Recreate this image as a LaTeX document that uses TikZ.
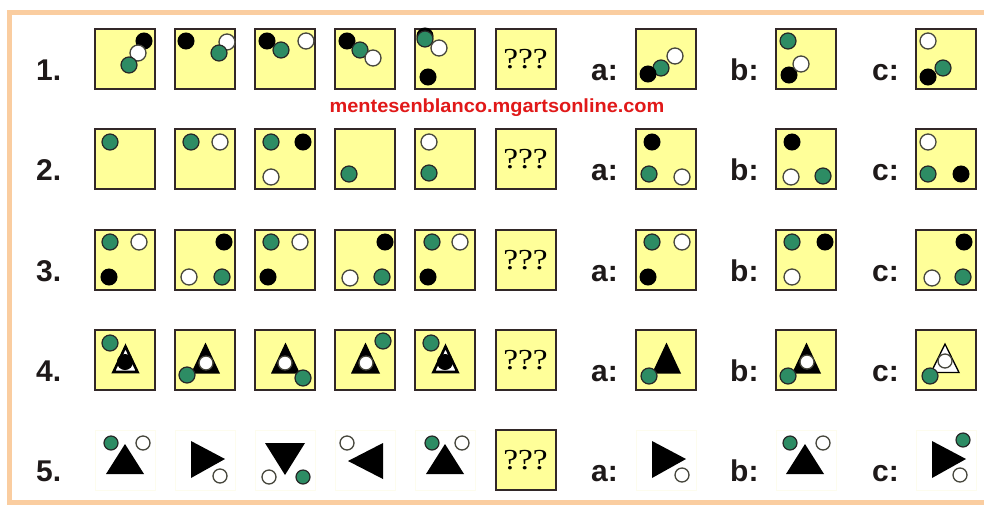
\documentclass[tikz,border=0pt]{standalone}
\usepackage{fontspec}
\setmainfont{Liberation Sans}
\newfontfamily\qfont{Liberation Serif}
\usetikzlibrary{calc}
\definecolor{framec}{RGB}{250,205,160}
\definecolor{boxfill}{RGB}{255,255,153}
\definecolor{boxline}{RGB}{50,40,40}
\definecolor{grn}{RGB}{45,140,100}
\definecolor{wmred}{RGB}{225,25,25}
\definecolor{lbl}{RGB}{30,25,25}
\definecolor{faintc}{RGB}{253,252,238}
\definecolor{wedge}{RGB}{70,70,60}
\tikzset{
  framest/.style={draw=framec, line width=4.5pt},
  pbox/.style={draw=boxline, fill=boxfill, line width=2pt, minimum size=60pt, inner sep=0pt, outer sep=0pt},
  fbox/.style={draw=faintc, line width=1pt, minimum size=60pt, inner sep=0pt, outer sep=0pt},
  gc/.style={fill=grn, draw=black!85, line width=1.2pt},
  bc/.style={fill=black, draw=black, line width=1pt},
  wc/.style={fill=white, draw=wedge, line width=1.3pt},
  lab/.style={font=\bfseries\fontsize{30}{30}\selectfont, text=lbl, anchor=base west, inner sep=0pt},
  qm/.style={font=\qfont\fontsize{29}{29}\selectfont, text=black, inner sep=0pt},
  wm/.style={font=\bfseries\fontsize{19}{19}\selectfont, text=wmred, anchor=base, inner sep=0pt},
  tri/.style={fill=black},
}
\def\crad{8pt}
\newcommand\dotG[2]{\path[gc] (#1,#2) circle[radius=\crad];}
\newcommand\dotB[2]{\path[bc] (#1,#2) circle[radius=\crad];}
\newcommand\dotW[2]{\path[wc] (#1,#2) circle[radius=\crad];}
\newcommand\inbox[2]{\begin{scope}[shift={($(#1.north west)+(-1,-1)$)}]#2\end{scope}}
\newcommand\trBlk{\fill[black] (31.5,13.5) -- (46,44.5) -- (17,44.5) -- cycle;}
\newcommand\trWht{\draw[line width=2.6pt, fill=white, line join=miter] (31.5,17.5) -- (43.5,43) -- (19.5,43) -- cycle;}
\newcommand\trThin{\draw[line width=1.3pt, fill=white] (30,15) -- (44,43.5) -- (16,43.5) -- cycle;}
\newcommand\tUp{\path[tri] (31,15) -- (50,45) -- (12,45) -- cycle;}
\newcommand\tRt{\path[tri] (17,12) -- (51,30) -- (17,49) -- cycle;}
\newcommand\tDn{\path[tri] (11,14) -- (51,14) -- (31,46) -- cycle;}
\newcommand\tLt{\path[tri] (49,14) -- (49,50) -- (14,32) -- cycle;}
\begin{document}
\begin{tikzpicture}[x=1pt,y=-1pt]
\useasboundingbox (0,0) rectangle (984,504);
\clip (0,0) rectangle (984,504);
\fill[white] (0,0) rectangle (984,504);
\draw[framest] (9.5,12.5) rectangle (1000,502.5);

% boxes rows 1-4
\foreach \ri/\yy in {1/59,2/159,3/260,4/360}{
  \foreach \ci/\xx in {1/125,2/205,3/285,4/365,5/445,6/525.5,7/666,8/806,9/946}{
    \node[pbox] (r\ri-\ci) at (\xx,\yy) {};
  }
}
% row 5
\foreach \ci/\xx in {1/125,2/205,3/285,4/365,5/445,7/666,8/806,9/946}{
  \node[fbox] (r5-\ci) at (\xx,460) {};
}
\node[pbox] (r5-6) at (525.5,460) {};

% question marks
\foreach \ri in {1,...,5}{
  \node[qm] (q\ri) at (r\ri-6) {\scalebox{1.15}[1]{???}};
}

% labels
\foreach \ri/\bl in {1/80,2/180,3/281,4/381,5/481}{
  \node[lab] (n\ri) at (36,\bl) {\ri.};
  \node[lab] (a\ri) at (591,\bl) {a:};
  \node[lab] (b\ri) at (730,\bl) {b:};
  \node[lab] (c\ri) at (872,\bl) {c:};
}

% watermark
\node[wm] (wmk) at (497,112) {\scalebox{1.05}[1]{mentesenblanco.mgartsonline.com}};

% ---- row 1
\inbox{r1-1}{\dotB{50}{13}\dotW{44}{25}\dotG{35}{37}}
\inbox{r1-2}{\dotB{12}{13}\dotW{53}{14}\dotG{45}{25}}
\inbox{r1-3}{\dotB{13}{13}\dotG{27}{22}\dotW{52}{13}}
\inbox{r1-4}{\dotB{13}{13}\dotG{26}{22}\dotW{39}{30}}
\inbox{r1-5}{\dotB{11}{8}\dotG{11}{11}\dotW{25}{20}\dotB{14}{49}}
\inbox{r1-7}{\dotW{40}{28}\dotG{26}{40}\dotB{13}{46}}
\inbox{r1-8}{\dotG{13}{13}\dotB{14}{47}\dotW{26}{36}}
\inbox{r1-9}{\dotW{13}{13}\dotB{13}{49}\dotG{28}{40}}

% ---- row 2
\inbox{r2-1}{\dotG{16}{14}}
\inbox{r2-2}{\dotG{17}{14}\dotW{46}{14}}
\inbox{r2-3}{\dotG{17}{14}\dotB{49}{14}\dotW{17}{49}}
\inbox{r2-4}{\dotG{15}{46}}
\inbox{r2-5}{\dotW{15}{14}\dotG{15}{45}}
\inbox{r2-7}{\dotB{17}{14}\dotG{14}{46}\dotW{47}{49}}
\inbox{r2-8}{\dotB{17}{14}\dotW{16}{49}\dotG{48}{48}}
\inbox{r2-9}{\dotW{13}{14}\dotG{13}{46}\dotB{46}{46}}

% ---- row 3
\inbox{r3-1}{\dotG{16}{13}\dotW{45}{13}\dotB{15}{48}}
\inbox{r3-2}{\dotB{50}{13}\dotW{15}{48}\dotG{48}{48}}
\inbox{r3-3}{\dotG{17}{13}\dotW{46}{13}\dotB{14}{48}}
\inbox{r3-4}{\dotB{51}{13}\dotW{16}{49}\dotG{48}{48}}
\inbox{r3-5}{\dotG{18}{13}\dotW{46}{13}\dotB{14}{48}}
\inbox{r3-7}{\dotG{17}{13}\dotW{47}{13}\dotB{13}{48}}
\inbox{r3-8}{\dotG{17}{13}\dotB{50}{13}\dotW{17}{48}}
\inbox{r3-9}{\dotB{49}{13}\dotW{17}{49}\dotG{48}{48}}

% ---- row 4
\inbox{r4-1}{\trWht{\def\crad{7.5pt}\dotB{31}{33}}\dotG{16}{14}}
\inbox{r4-2}{\trBlk{\def\crad{7pt}\dotW{32}{34}}\dotG{13}{46}}
\inbox{r4-3}{\trBlk{\def\crad{7pt}\dotW{31}{34}}\dotG{49}{49}}
\inbox{r4-4}{\trBlk{\def\crad{7pt}\dotW{32}{34}}\dotG{49}{12}}
\inbox{r4-5}{\trWht{\def\crad{7.5pt}\dotB{31}{33}}\dotG{17}{14}}
\inbox{r4-7}{\trBlk\dotG{14}{47}}
\inbox{r4-8}{\trBlk{\def\crad{7pt}\dotW{32}{33}}\dotG{13}{47}}
\inbox{r4-9}{\trThin{\def\crad{7pt}\dotW{30}{32}}\dotG{15}{47}}

% ---- row 5
\begingroup
\def\crad{7pt}
\inbox{r5-1}{\tUp\dotG{17}{14}\dotW{49}{14}}
\inbox{r5-2}{\tRt\dotW{46}{47}}
\inbox{r5-3}{\tDn\dotW{15}{48}\dotG{49}{48}}
\inbox{r5-4}{\tLt\dotW{13}{14}}
\inbox{r5-5}{\tUp\dotG{18}{14}\dotW{48}{14}}
\inbox{r5-7}{\tRt\dotW{47}{46}}
\inbox{r5-8}{\begin{scope}[xshift=-1pt]\tUp\end{scope}\dotG{15}{14}\dotW{48}{14}}
\inbox{r5-9}{\tRt\dotG{48}{11}\dotW{45}{46}}
\endgroup
\end{tikzpicture}
\end{document}
